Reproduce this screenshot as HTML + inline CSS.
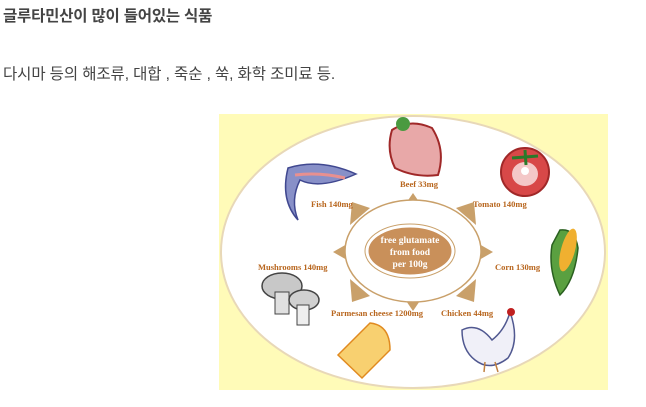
<!DOCTYPE html>
<html><head><meta charset="utf-8"><style>
body{margin:0;width:646px;height:407px;background:#fff;overflow:hidden;font-family:"Liberation Sans","Noto Sans CJK KR",sans-serif;}
.h{position:absolute;left:3px;top:4px;font-size:15.5px;font-weight:bold;color:#444;letter-spacing:-0.2px}
.p{position:absolute;left:3px;top:62px;font-size:15.5px;color:#444;letter-spacing:-0.1px}
svg{position:absolute;left:0;top:0}
.l{font-family:"Liberation Serif",serif;font-size:8.5px;font-weight:bold;fill:#b8661e}
</style></head><body>
<div class="h">글루타민산이 많이 들어있는 식품</div>
<div class="p">다시마 등의 해조류, 대합 , 죽순 , 쑥, 화학 조미료 등.</div>
<svg width="646" height="407">
<rect x="219" y="114" width="389" height="276" fill="#fffbb8"/>
<ellipse cx="413" cy="252" rx="192" ry="136" fill="#fff" stroke="#e8d8b8" stroke-width="2"/>
<g fill="#c9a06a">
<polygon points="400,212 426,212 413,193"/>
<polygon points="400,292 426,292 413,311"/>
<polygon points="354,240 354,264 333,252"/>
<polygon points="472,240 472,264 493,252"/>
<polygon points="350,225 370,208 352,202"/>
<polygon points="456,208 476,225 474,202"/>
<polygon points="350,279 370,296 352,302"/>
<polygon points="456,296 476,279 474,302"/>
</g>
<ellipse cx="413" cy="251" rx="68" ry="51" fill="#fff" stroke="#c9a06a" stroke-width="1.5"/>
<ellipse cx="410" cy="251" rx="42" ry="24" fill="#c9905a" stroke="#fff" stroke-width="1"/>
<ellipse cx="410" cy="251" rx="45" ry="27" fill="none" stroke="#c9a06a" stroke-width="1"/>
<g font-family="Liberation Serif,serif" font-size="9.5" font-weight="bold" fill="#fff" text-anchor="middle">
<text x="410" y="243">free glutamate</text><text x="410" y="255">from food</text><text x="410" y="267">per 100g</text></g>
<text class="l" x="400" y="187">Beef 33mg</text>
<text class="l" x="311" y="207">Fish 140mg</text>
<text class="l" x="473" y="207">Tomato 140mg</text>
<text class="l" x="258" y="270">Mushrooms 140mg</text>
<text class="l" x="495" y="270">Corn 130mg</text>
<text class="l" x="331" y="316">Parmesan cheese 1200mg</text>
<text class="l" x="441" y="316">Chicken 44mg</text>
<path d="M392,130 Q410,118 432,128 Q446,150 438,175 Q415,178 395,168 Q386,150 392,130Z" fill="#e8a8a8" stroke="#a02828" stroke-width="2"/>
<circle cx="403" cy="124" r="7" fill="#4a9a40"/>
<circle cx="525" cy="172" r="24" fill="#d84848" stroke="#a02828" stroke-width="2"/>
<ellipse cx="525" cy="174" rx="13" ry="12" fill="#f4c8c8"/>
<circle cx="525" cy="171" r="4" fill="#fff"/>
<path d="M512,158 L538,156 M525,150 L526,165" stroke="#2a7a2a" stroke-width="3"/>
<path d="M288,168 Q320,158 356,174 Q320,190 300,180 Q290,200 298,220 Q280,200 288,168Z" fill="#8890c8" stroke="#404890" stroke-width="1.5"/>
<path d="M295,175 Q320,172 345,178" stroke="#e89090" stroke-width="3" fill="none"/>
<path d="M560,230 Q575,228 578,248 Q575,280 560,295 Q548,270 552,245Z" fill="#5aa040" stroke="#2a6020" stroke-width="1.5"/>
<ellipse cx="568" cy="250" rx="7" ry="22" fill="#f0b030" transform="rotate(15 568 250)"/>
<ellipse cx="282" cy="286" rx="20" ry="13" fill="#c8c8c8" stroke="#444" stroke-width="1.5"/>
<rect x="275" y="292" width="14" height="22" fill="#e0e0e0" stroke="#444"/>
<ellipse cx="304" cy="300" rx="15" ry="10" fill="#d0d0d0" stroke="#444" stroke-width="1.5"/>
<rect x="297" y="305" width="12" height="20" fill="#eee" stroke="#444"/>
<path d="M338,355 L370,323 Q390,325 390,350 L362,378Z" fill="#f8d070" stroke="#e08a20" stroke-width="1.5"/>
<path d="M462,330 Q478,322 492,340 Q505,330 510,312 Q520,340 508,358 Q490,372 475,360 Q462,350 462,330Z" fill="#f0f0f8" stroke="#505890" stroke-width="1.5"/>
<circle cx="511" cy="312" r="4" fill="#c02020"/>
<path d="M485,362 L484,372 M495,362 L498,372" stroke="#c08040" stroke-width="1.5"/>
</svg>
</body></html>
